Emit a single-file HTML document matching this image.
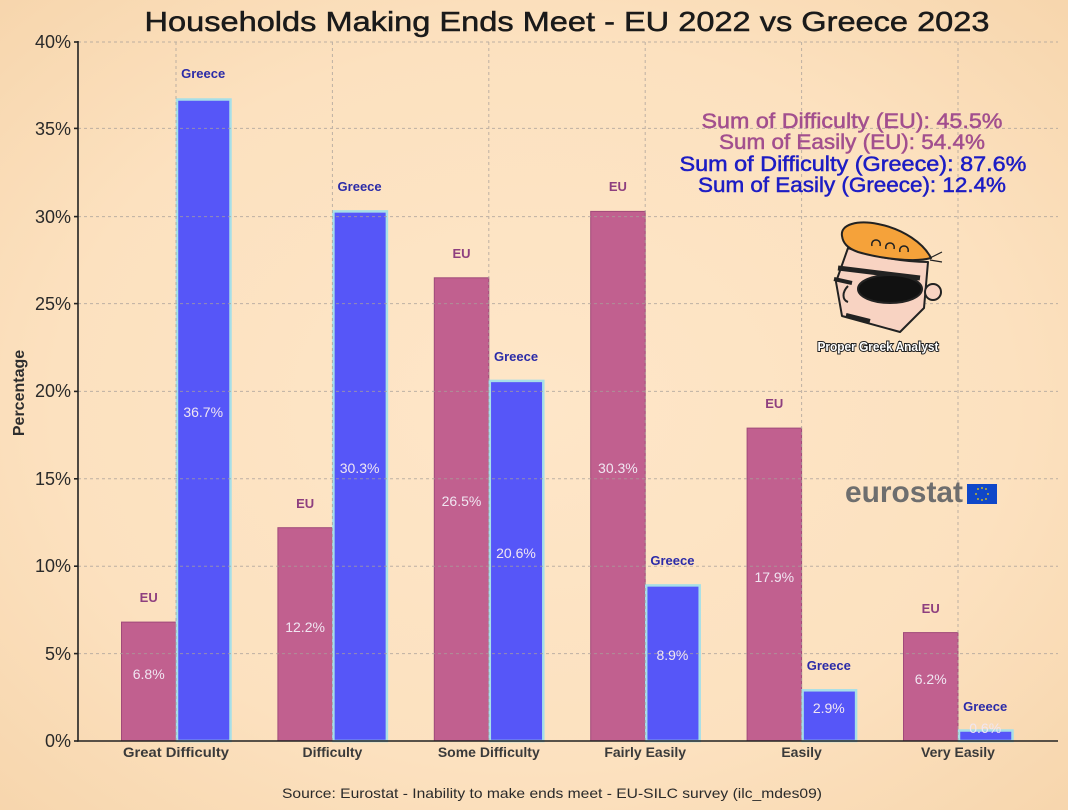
<!DOCTYPE html>
<html><head><meta charset="utf-8"><style>
html,body{margin:0;padding:0;}
body{width:1068px;height:810px;overflow:hidden;}
svg{display:block;font-family:"Liberation Sans",sans-serif;}
</style></head><body>
<svg width="1068" height="810" viewBox="0 0 1068 810" xmlns="http://www.w3.org/2000/svg">
<defs>
<radialGradient id="bg" cx="50%" cy="50%" r="75%">
<stop offset="0" stop-color="#fee6c8"/>
<stop offset="0.6" stop-color="#fce1bf"/>
<stop offset="1" stop-color="#f6d4aa"/>
</radialGradient>
</defs>
<rect x="0" y="0" width="1068" height="810" fill="url(#bg)"/>

<!-- title -->
<text x="567" y="31" font-size="28" text-anchor="middle" fill="#1a1a1a" stroke="#1a1a1a" stroke-width="0.5" textLength="845" lengthAdjust="spacingAndGlyphs">Households Making Ends Meet - EU 2022 vs Greece 2023</text>

<!-- bars EU -->
<g fill="#c1608f" stroke="#a04a7a" stroke-width="1">
<rect x="121.5" y="622.1" width="54.5" height="118.9"/>
<rect x="277.9" y="527.7" width="54.5" height="213.3"/>
<rect x="434.3" y="277.8" width="54.5" height="463.2"/>
<rect x="590.7" y="211.4" width="54.5" height="529.6"/>
<rect x="747.1" y="428.1" width="54.5" height="312.9"/>
<rect x="903.5" y="632.6" width="54.5" height="108.4"/>
</g>
<!-- bars Greece -->
<g fill="#5656f8" stroke="#a6dfe8" stroke-width="2.5">
<rect x="177" y="99.5" width="53.5" height="641.5"/>
<rect x="333.4" y="211.4" width="53.5" height="529.6"/>
<rect x="489.8" y="380.9" width="53.5" height="360.1"/>
<rect x="646.2" y="585.4" width="53.5" height="155.6"/>
<rect x="802.6" y="690.3" width="53.5" height="50.7"/>
<rect x="959" y="730.5" width="53.5" height="10.5"/>
</g>

<!-- grid -->
<g stroke="#a8a09a" stroke-width="1" stroke-dasharray="3,3" opacity="0.75">
<line x1="78" y1="42" x2="1058" y2="42"/>
<line x1="78" y1="128.4" x2="1058" y2="128.4"/>
<line x1="78" y1="216.6" x2="1058" y2="216.6"/>
<line x1="78" y1="303.6" x2="1058" y2="303.6"/>
<line x1="78" y1="391.4" x2="1058" y2="391.4"/>
<line x1="78" y1="478.8" x2="1058" y2="478.8"/>
<line x1="78" y1="566.2" x2="1058" y2="566.2"/>
<line x1="78" y1="653.6" x2="1058" y2="653.6"/>
<line x1="176" y1="42" x2="176" y2="741"/>
<line x1="332.4" y1="42" x2="332.4" y2="741"/>
<line x1="488.8" y1="42" x2="488.8" y2="741"/>
<line x1="645.2" y1="42" x2="645.2" y2="741"/>
<line x1="801.6" y1="42" x2="801.6" y2="741"/>
<line x1="958" y1="42" x2="958" y2="741"/>
</g>

<!-- axes -->
<g stroke="#222" stroke-width="1.6">
<line x1="78" y1="41" x2="78" y2="741.8"/>
<line x1="77.2" y1="741" x2="1058" y2="741"/>
<line x1="74" y1="42" x2="78" y2="42"/>
<line x1="74" y1="128.4" x2="78" y2="128.4"/>
<line x1="74" y1="216.6" x2="78" y2="216.6"/>
<line x1="74" y1="303.6" x2="78" y2="303.6"/>
<line x1="74" y1="391.4" x2="78" y2="391.4"/>
<line x1="74" y1="478.8" x2="78" y2="478.8"/>
<line x1="74" y1="566.2" x2="78" y2="566.2"/>
<line x1="74" y1="653.6" x2="78" y2="653.6"/>
<line x1="74" y1="741" x2="78" y2="741"/>
</g>

<!-- y tick labels -->
<g font-size="18" fill="#2a2a2a" text-anchor="end">
<text x="71" y="48">40%</text>
<text x="71" y="135">35%</text>
<text x="71" y="223">30%</text>
<text x="71" y="310">25%</text>
<text x="71" y="397">20%</text>
<text x="71" y="485">15%</text>
<text x="71" y="572">10%</text>
<text x="71" y="660">5%</text>
<text x="71" y="747">0%</text>
</g>
<text transform="translate(24,393) rotate(-90)" font-size="16" font-weight="bold" fill="#2e2e2e" text-anchor="middle">Percentage</text>

<!-- x tick labels -->
<g font-size="14" font-weight="bold" fill="#3a3a3a" text-anchor="middle">
<text x="176" y="757" textLength="106" lengthAdjust="spacingAndGlyphs">Great Difficulty</text>
<text x="332.4" y="757">Difficulty</text>
<text x="488.8" y="757">Some Difficulty</text>
<text x="645.2" y="757">Fairly Easily</text>
<text x="801.6" y="757">Easily</text>
<text x="958" y="757">Very Easily</text>
</g>

<!-- EU labels -->
<g font-size="13" font-weight="bold" fill="#8e3f7f" text-anchor="middle">
<text x="148.7" y="602">EU</text>
<text x="305.1" y="508">EU</text>
<text x="461.5" y="258">EU</text>
<text x="617.9" y="191">EU</text>
<text x="774.3" y="408">EU</text>
<text x="930.7" y="613">EU</text>
</g>
<g font-size="13" font-weight="bold" fill="#2b2ba8" text-anchor="middle">
<text x="203.2" y="78">Greece</text>
<text x="359.6" y="191">Greece</text>
<text x="516" y="361">Greece</text>
<text x="672.4" y="565">Greece</text>
<text x="828.8" y="670">Greece</text>
<text x="985.2" y="711">Greece</text>
</g>

<!-- value labels -->
<g font-size="14" fill="#f0e6f2" text-anchor="middle">
<text x="148.7" y="679">6.8%</text>
<text x="305.1" y="632">12.2%</text>
<text x="461.5" y="506">26.5%</text>
<text x="617.9" y="473">30.3%</text>
<text x="774.3" y="582">17.9%</text>
<text x="930.7" y="684">6.2%</text>
<text x="203.2" y="417">36.7%</text>
<text x="359.6" y="473">30.3%</text>
<text x="516" y="558">20.6%</text>
<text x="672.4" y="660">8.9%</text>
<text x="828.8" y="713">2.9%</text>
<text x="985.2" y="733">0.6%</text>
</g>

<!-- sums -->
<g font-size="21" text-anchor="middle" stroke-width="0.5">
<text x="852" y="128" fill="#a24f8e" stroke="#a24f8e" textLength="301" lengthAdjust="spacingAndGlyphs">Sum of Difficulty (EU): 45.5%</text>
<text x="852" y="149" fill="#a24f8e" stroke="#a24f8e" textLength="266" lengthAdjust="spacingAndGlyphs">Sum of Easily (EU): 54.4%</text>
<text x="853" y="171" fill="#1c1cc4" stroke="#1c1cc4" textLength="347" lengthAdjust="spacingAndGlyphs">Sum of Difficulty (Greece): 87.6%</text>
<text x="852" y="192" fill="#1c1cc4" stroke="#1c1cc4" textLength="308" lengthAdjust="spacingAndGlyphs">Sum of Easily (Greece): 12.4%</text>
</g>

<!-- logo -->
<g stroke="#222" stroke-width="2" stroke-linejoin="round">
<path d="M848,248 L836,282 L842,316 L900,332 L924,308 L928,262 C905,262 868,256 848,248 Z" fill="#f8d3c2"/>
<circle cx="933" cy="292" r="8" fill="#f8d3c2"/>
<path d="M842,236 C840,224 858,220 878,224 C904,229 924,244 931,258 C914,263 878,258 858,252 C847,248 843,243 842,236 Z" fill="#f5a23a"/>
<path d="M872,246 c-2,-8 10,-8 8,0 M886,249 c-2,-8 10,-8 8,0 M900,252 c-2,-8 10,-8 8,0" fill="none" stroke-width="1.5"/>
<path d="M930,258 l12,-6 M930,260 l12,2" fill="none" stroke-width="1.2"/>
<line x1="838" y1="268" x2="920" y2="278" stroke-width="5"/>
<ellipse cx="890" cy="289" rx="32" ry="14" fill="#111"/>
<line x1="834" y1="279" x2="852" y2="283" stroke-width="4"/>
<path d="M848,286 C842,292 842,300 848,302" fill="none" stroke-width="2"/>
<line x1="846" y1="315" x2="870" y2="321" stroke-width="4"/>
</g>
<text x="878" y="351" font-size="13" font-weight="bold" fill="#fff" stroke="#222" stroke-width="2" paint-order="stroke" text-anchor="middle" textLength="121" lengthAdjust="spacingAndGlyphs">Proper Greek Analyst</text>

<!-- eurostat -->
<text x="845" y="502" font-size="30" font-weight="bold" fill="#6e6e6e" textLength="118" lengthAdjust="spacingAndGlyphs">eurostat</text>
<rect x="967" y="484" width="30" height="20" fill="#0f47c9"/>
<g fill="#f5d400">
<circle cx="982" cy="488" r="0.9"/><circle cx="986" cy="489" r="0.9"/><circle cx="988" cy="494" r="0.9"/>
<circle cx="986" cy="499" r="0.9"/><circle cx="982" cy="500" r="0.9"/><circle cx="978" cy="499" r="0.9"/>
<circle cx="976" cy="494" r="0.9"/><circle cx="978" cy="489" r="0.9"/>
</g>

<!-- source -->
<text x="552" y="798" font-size="14" fill="#2a2a2a" text-anchor="middle" textLength="540" lengthAdjust="spacingAndGlyphs">Source: Eurostat - Inability to make ends meet - EU-SILC survey (ilc_mdes09)</text>
</svg>
</body></html>
